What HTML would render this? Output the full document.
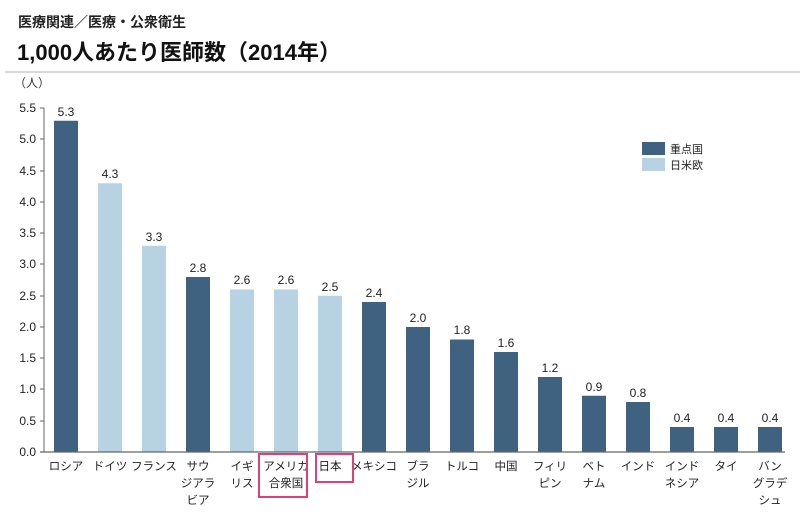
<!DOCTYPE html>
<html><head><meta charset="utf-8"><style>
body{margin:0;background:#fff;width:800px;height:514px;overflow:hidden}
svg{font-family:"Liberation Sans","Noto Sans CJK JP",sans-serif}
</style></head><body>
<svg width="800" height="514" xmlns="http://www.w3.org/2000/svg">
<text x="18" y="27" font-size="14" font-weight="bold" fill="#222">医療関連／医療・公衆衛生</text>
<text x="17" y="60" font-size="22" font-weight="bold" fill="#111">1,000人あたり医師数（2014年）</text>
<line x1="5" y1="72" x2="800" y2="72" stroke="#ccc" stroke-width="1.5"/>
<text x="14" y="87" font-size="12" fill="#333">（人）</text>
<g font-size="12" fill="#222" text-anchor="end">
<text x="36" y="112">5.5</text><text x="36" y="143">5.0</text><text x="36" y="175">4.5</text><text x="36" y="206">4.0</text><text x="36" y="237">3.5</text><text x="36" y="268">3.0</text><text x="36" y="300">2.5</text><text x="36" y="331">2.0</text><text x="36" y="362">1.5</text><text x="36" y="393">1.0</text><text x="36" y="425">0.5</text><text x="36" y="456">0.0</text>
</g>
<g stroke="#666" stroke-width="1">
<line x1="44" y1="108" x2="44" y2="452"/>
<line x1="40" y1="108" x2="44" y2="108"/><line x1="40" y1="139" x2="44" y2="139"/><line x1="40" y1="171" x2="44" y2="171"/><line x1="40" y1="202" x2="44" y2="202"/><line x1="40" y1="233" x2="44" y2="233"/><line x1="40" y1="264" x2="44" y2="264"/><line x1="40" y1="296" x2="44" y2="296"/><line x1="40" y1="327" x2="44" y2="327"/><line x1="40" y1="358" x2="44" y2="358"/><line x1="40" y1="389" x2="44" y2="389"/><line x1="40" y1="421" x2="44" y2="421"/>
</g>
<g>
<rect x="54" y="120.75" width="24" height="331.25" fill="#3f6280"/>
<rect x="98" y="183.25" width="24" height="268.75" fill="#b7d2e3"/>
<rect x="142" y="245.75" width="24" height="206.25" fill="#b7d2e3"/>
<rect x="186" y="277" width="24" height="175" fill="#3f6280"/>
<rect x="230" y="289.5" width="24" height="162.5" fill="#b7d2e3"/>
<rect x="274" y="289.5" width="24" height="162.5" fill="#b7d2e3"/>
<rect x="318" y="295.75" width="24" height="156.25" fill="#b7d2e3"/>
<rect x="362" y="302" width="24" height="150" fill="#3f6280"/>
<rect x="406" y="327" width="24" height="125" fill="#3f6280"/>
<rect x="450" y="339.5" width="24" height="112.5" fill="#3f6280"/>
<rect x="494" y="352" width="24" height="100" fill="#3f6280"/>
<rect x="538" y="377" width="24" height="75" fill="#3f6280"/>
<rect x="582" y="395.75" width="24" height="56.25" fill="#3f6280"/>
<rect x="626" y="402" width="24" height="50" fill="#3f6280"/>
<rect x="670" y="427" width="24" height="25" fill="#3f6280"/>
<rect x="714" y="427" width="24" height="25" fill="#3f6280"/>
<rect x="758" y="427" width="24" height="25" fill="#3f6280"/>
</g>
<g font-size="12" fill="#222" text-anchor="middle">
<text x="66" y="116">5.3</text><text x="110" y="178">4.3</text><text x="154" y="241">3.3</text><text x="198" y="272">2.8</text><text x="242" y="284">2.6</text><text x="286" y="284">2.6</text><text x="330" y="291">2.5</text><text x="374" y="297">2.4</text><text x="418" y="322">2.0</text><text x="462" y="334">1.8</text><text x="506" y="347">1.6</text><text x="550" y="372">1.2</text><text x="594" y="391">0.9</text><text x="638" y="397">0.8</text><text x="682" y="422">0.4</text><text x="726" y="422">0.4</text><text x="770" y="422">0.4</text>
</g>
<g font-size="11.5" fill="#222" text-anchor="middle">
<text x="66" y="470">ロシア</text>
<text x="110" y="470">ドイツ</text>
<text x="154" y="470">フランス</text>
<text x="198" y="470">サウ</text><text x="198" y="487">ジアラ</text><text x="198" y="504">ビア</text>
<text x="242" y="470">イギ</text><text x="242" y="487">リス</text>
<text x="286" y="470">アメリカ</text><text x="286" y="487">合衆国</text>
<text x="330" y="470">日本</text>
<text x="374" y="470">メキシコ</text>
<text x="418" y="470">ブラ</text><text x="418" y="487">ジル</text>
<text x="462" y="470">トルコ</text>
<text x="506" y="470">中国</text>
<text x="550" y="470">フィリ</text><text x="550" y="487">ピン</text>
<text x="594" y="470">ベト</text><text x="594" y="487">ナム</text>
<text x="638" y="470">インド</text>
<text x="682" y="470">インド</text><text x="682" y="487">ネシア</text>
<text x="726" y="470">タイ</text>
<text x="770" y="470">バン</text><text x="770" y="487">グラデ</text><text x="770" y="504">シュ</text>
</g>
<line x1="40" y1="452" x2="785" y2="452" stroke="#666" stroke-width="1.2"/>
<rect x="642" y="142" width="23" height="13" fill="#3f6280"/>
<rect x="642" y="158" width="23" height="13" fill="#b7d2e3"/>
<text x="670" y="153" font-size="11" fill="#222">重点国</text>
<text x="670" y="169" font-size="11" fill="#222">日米欧</text>
<rect x="259" y="454" width="48" height="43" fill="none" stroke="#e0407a" stroke-width="2"/>
<rect x="316" y="454" width="37" height="28" fill="none" stroke="#e0407a" stroke-width="2"/>
</svg>
</body></html>
